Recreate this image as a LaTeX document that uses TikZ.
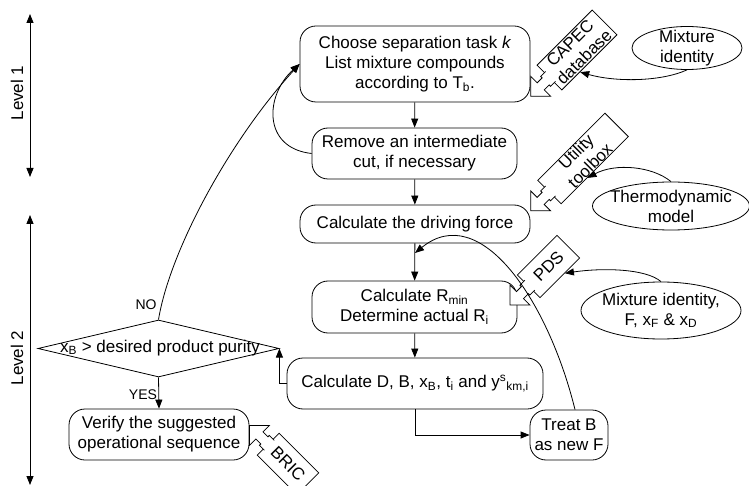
\documentclass[tikz,border=0pt]{standalone}
\usepackage{fontspec}
\setmainfont{Liberation Sans}
\usetikzlibrary{arrows.meta,shapes.geometric,calc}

% notched block arrow leaving a tool box: #1 = start point, #2 = direction
\newcommand\toolarrow[2]{%
  \begin{scope}[shift={(#1)}, rotate=#2]
    \draw[fill=white, line join=miter]
      (-2,7) -- (5,7) -- (5,5) -- (12,5) -- (12,14) -- (26,0)
      -- (12,-14) -- (12,-5) -- (5,-5) -- (5,-7) -- (-2,-7);
  \end{scope}}

\begin{document}
\begin{tikzpicture}[x=1pt, y=-1pt, line width=0.8pt,
    font=\fontsize{17}{20}\selectfont,
    >={Triangle[length=9pt,width=7pt]},
    stepbox/.style={draw, rounded corners=16pt, align=center, inner sep=1pt},
    tool/.style={draw, fill=white, align=center, inner sep=0pt},
    ell/.style={draw, ellipse, inner sep=0pt},
    arr/.style={->},
    small/.style={font=\fontsize{14}{16}\selectfont}]
\useasboundingbox (0,0) rectangle (749,486);

% level markers
\coordinate (l1top) at (30,14);
\coordinate (l1bot) at (30,177);
\coordinate (l2top) at (30,215);
\coordinate (l2bot) at (30,485);
\draw[<->] (l1top) -- (l1bot);
\draw[<->] (l2top) -- (l2bot);
\node[rotate=90] (lev1) at (17,93) {Level 1};
\node[rotate=90] (lev2) at (17,358) {Level 2};

% main sequence
\node[stepbox, minimum width=230, minimum height=76] (box1) at (415,64)
  {Choose separation task \textit{k}\\List mixture compounds\\according to T\textsubscript{b}.};
\node[stepbox, minimum width=205, minimum height=51] (box2) at (414.5,153.5)
  {Remove an intermediate\\cut, if necessary};
\node[stepbox, minimum width=230, minimum height=38] (box3) at (415,224)
  {Calculate the driving force};
\node[stepbox, minimum width=205, minimum height=52] (box4) at (414.5,307)
  {Calculate R\textsubscript{min}\\Determine actual R\textsubscript{i}};
\node[stepbox, minimum width=256, minimum height=51] (box5) at (415,383.5)
  {Calculate D, B, x\textsubscript{B}, t\textsubscript{i} and y\textsuperscript{s}\textsubscript{km,i}};
\node[stepbox, minimum width=78, minimum height=50] (box6) at (569,435)
  {Treat B\\as new F};
\node[stepbox, minimum width=180, minimum height=51] (box7) at (159,434.5)
  {Verify the suggested\\operational sequence};

% decision
\node[draw, diamond, inner sep=0pt, minimum width=241, minimum height=57] (dec) at (158.5,348.5) {};
\node (dectext) at (160,348) {x\textsubscript{B} > desired product purity};

% tools
\node[tool, rotate=45, minimum width=78, minimum height=35] (capec) at (577,50) {CAPEC\\database};
\node[tool, rotate=45, minimum width=95, minimum height=33] (util) at (583,158.5) {Utility\\toolbox};
\node[tool, rotate=45, minimum width=56, minimum height=32] (pds) at (548.5,266.5) {PDS};
\node[tool, rotate=-45, minimum width=56, minimum height=31] (bric) at (288,464) {BRIC};
\toolarrow{capec.west}{225}
\toolarrow{util.west}{225}
\toolarrow{pds.west}{225}
\toolarrow{bric.west}{135}

% inputs
\node[ell, minimum width=110, minimum height=43] (mix1) at (687,48) {};
\node[align=center] (mix1text) at (mix1) {Mixture\\identity};
\node[ell, minimum width=157, minimum height=48] (thermo) at (671,206) {};
\node[align=center] (thermotext) at (thermo) {Thermodynamic\\model};
\node[ell, minimum width=160, minimum height=57] (mixf) at (661,310.5) {};
\node[align=center] (mixftext) at (mixf) {Mixture identity,\\F, x\textsubscript{F} \& x\textsubscript{D}};

% straight flow
\draw[arr] (box1) -- (box2);
\draw[arr] (box2) -- (box3);
\draw[arr] (box3) -- (box4);
\draw[arr] (box4) -- (box5);
\draw[arr] (box5.south) |- (box6.west);
\draw[arr] (box5.west) -| (dec.east);
\draw[arr] (dec.south) -- (box7.north);
\node[small] (yes) at (143,395) {YES};

% loops
\draw[arr] (dec.north) .. controls (170,250) and (230,140) .. (box1.west);
\node[small] (no) at (146,305) {NO};
\draw[arr] (box2.west) .. controls (262,148) and (265,95) .. (box1.west);
\coordinate (join) at (415,253);
\draw[arr] ([xshift=6pt]box6.north) .. controls (548,300) and (480,200) .. (join);

% tool inputs
\draw[arr] (mix1.south) .. controls (660,82) and (615,82) .. ($(capec.south west)!0.33!(capec.south east)$);
\draw[arr] (thermo.north) .. controls (652,166) and (615,163) .. ($(util.south west)!0.39!(util.south east)$);
\draw[arr] (mixf.north) .. controls (645,268) and (600,268) .. ($(pds.south west)!0.62!(pds.south east)$);
\end{tikzpicture}
\end{document}
